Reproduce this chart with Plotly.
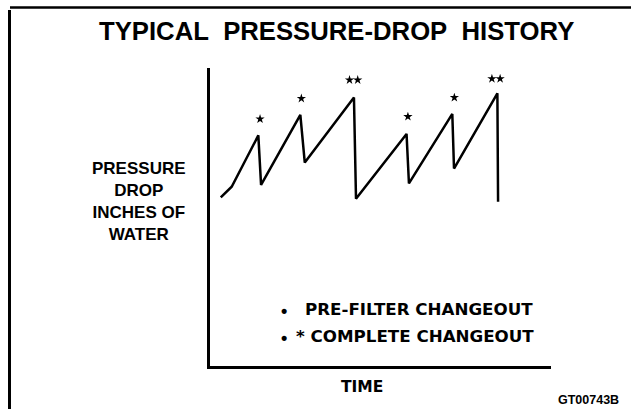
import plotly.graph_objects as go

# ---- data (arbitrary units: time 0-100, pressure drop 0-100) ----
time_pts = [3.3, 6.5, 14.3, 15.1, 26.6, 27.9, 42.3, 42.9, 57.7, 58.4, 71.1, 71.6, 84.3, 84.5]
pressure_pts = [56.5, 60.1, 77.3, 60.7, 84.2, 68.2, 90.0, 56.1, 77.8, 61.2, 84.5, 66.2, 91.4, 55.1]

star_time = [14.8, 26.9, 41.0, 43.4, 58.1, 71.7, 82.7, 85.1]
star_pressure = [82.8, 89.7, 95.9, 95.9, 83.6, 90.0, 96.3, 96.3]

title_text = "TYPICAL\u00a0\u00a0PRESSURE-DROP\u00a0\u00a0HISTORY"
ylabel_lines = ["PRESSURE", "DROP", "INCHES OF", "WATER"]
xlabel_text = "TIME"
legend_lines = ["PRE-FILTER CHANGEOUT", "* COMPLETE CHANGEOUT"]
code_text = "GT00743B"

W, H = 631, 409

def px(x):
    return x / W

def py(y):
    return 1 - y / H

fig = go.Figure()
fig.add_trace(go.Scatter(
    x=time_pts, y=pressure_pts, mode="lines",
    line=dict(color="black", width=2.5), hoverinfo="skip", showlegend=False,
))
fig.add_trace(go.Scatter(
    x=star_time, y=star_pressure, mode="markers",
    marker=dict(symbol="star", size=7, color="black"), hoverinfo="skip", showlegend=False,
))

bold_arial = dict(family="Liberation Sans, Arial, sans-serif", color="black", weight="bold")
bold_dejavu = dict(family="DejaVu Sans, sans-serif", color="black", weight="bold")

annotations = [
    dict(text=title_text, x=px(336.5), y=py(31), font=dict(size=25.7, **bold_arial),
         xanchor="center", yanchor="middle"),
    dict(text="<br>".join(ylabel_lines), x=px(139), y=py(202), font=dict(size=17, **bold_arial),
         xanchor="center", yanchor="middle", align="center"),
    dict(text=xlabel_text, x=px(362), y=py(387), font=dict(size=15.5, **bold_dejavu),
         xanchor="center", yanchor="middle"),
    dict(text=code_text, x=px(588.5), y=py(400), font=dict(size=12.5, **bold_arial),
         xanchor="center", yanchor="middle"),
    dict(text="\u2022", x=px(284), y=py(311), font=dict(size=18, **bold_arial),
         xanchor="center", yanchor="middle"),
    dict(text=legend_lines[0], x=px(303), y=py(309), font=dict(size=16.7, **bold_dejavu),
         xanchor="left", yanchor="middle"),
    dict(text="\u2022", x=px(284), y=py(338), font=dict(size=18, **bold_arial),
         xanchor="center", yanchor="middle"),
    dict(text=legend_lines[1], x=px(294), y=py(336), font=dict(size=16.7, **bold_dejavu),
         xanchor="left", yanchor="middle"),
]
for a in annotations:
    a.update(xref="paper", yref="paper", showarrow=False)

fig.update_layout(
    width=W, height=H,
    margin=dict(l=0, r=0, t=0, b=0),
    paper_bgcolor="white", plot_bgcolor="white",
    annotations=annotations,
    xaxis=dict(domain=[px(209.5), px(551)], range=[0, 100], showgrid=False, zeroline=False,
               showticklabels=False, ticks="", showline=True, linecolor="black", linewidth=3),
    yaxis=dict(domain=[py(366), py(67.7)], range=[0, 100], showgrid=False, zeroline=False,
               showticklabels=False, ticks="", showline=True, linecolor="black", linewidth=3),
    shapes=[
        dict(type="line", xref="paper", yref="paper", x0=px(10), x1=1, y0=py(7.5), y1=py(7.5),
             line=dict(color="black", width=2.5)),
        dict(type="line", xref="paper", yref="paper", x0=px(9.5), x1=px(9.5), y0=py(10), y1=0,
             line=dict(color="black", width=3)),
    ],
)

fig.write_html(
    "out.html",
    config={"displayModeBar": False},
    post_script="document.body.style.margin='0';document.body.style.padding='0';"
                "document.body.style.overflow='hidden';",
)
